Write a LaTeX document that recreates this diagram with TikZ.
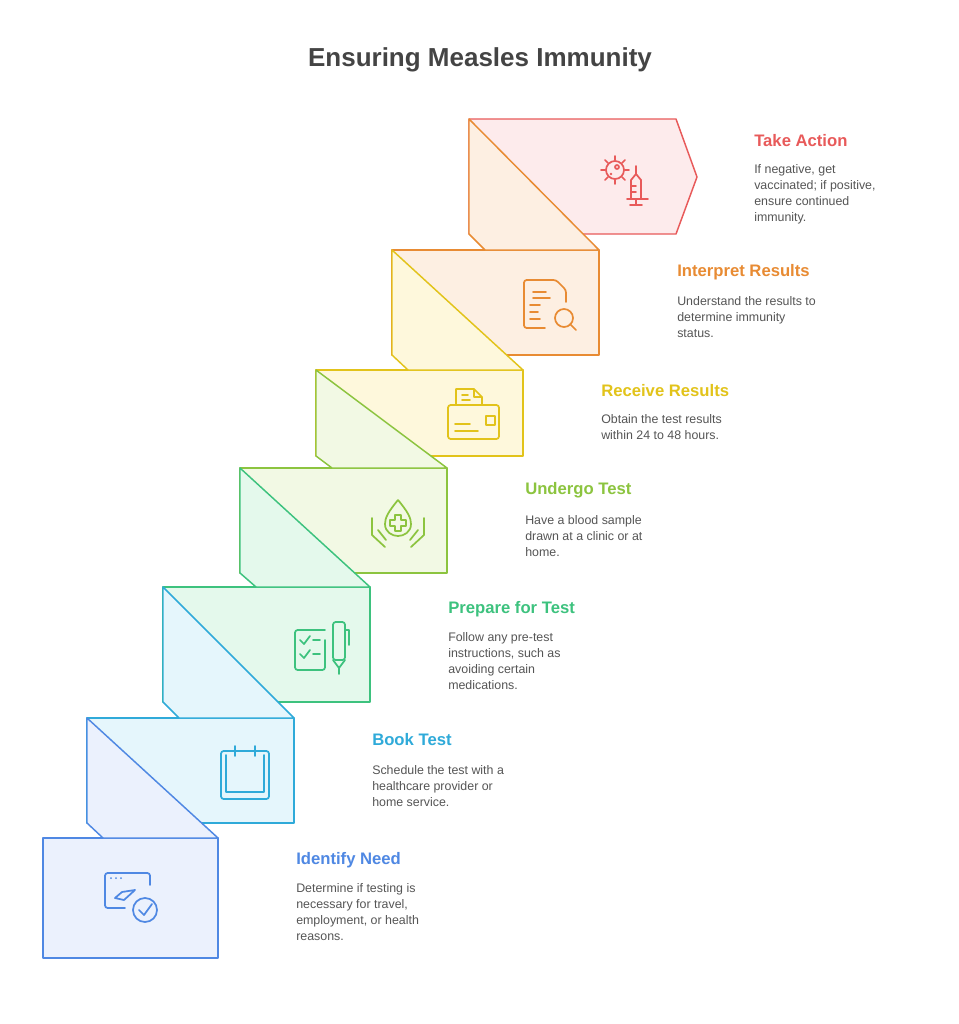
\documentclass[tikz,border=0pt]{standalone}
\usepackage{fontspec}
\setmainfont{Liberation Sans}
\usepackage{tikz}
\usetikzlibrary{arrows.meta,positioning,calc}

\definecolor{cA}{HTML}{4F88E3}\definecolor{fA}{HTML}{EBF1FD}
\definecolor{cB}{HTML}{2FAAD9}\definecolor{fB}{HTML}{E5F6FC}
\definecolor{cC}{HTML}{3DC27E}\definecolor{fC}{HTML}{E4F9EC}
\definecolor{cD}{HTML}{8CC43F}\definecolor{fD}{HTML}{F2F9E4}
\definecolor{cE}{HTML}{E2C31A}\definecolor{fE}{HTML}{FEF8DC}
\definecolor{cF}{HTML}{E88B33}\definecolor{fF}{HTML}{FDEFE2}
\definecolor{cG}{HTML}{E85A5A}\definecolor{fG}{HTML}{FDEBEC}
\definecolor{txt}{HTML}{555555}

\begin{document}
\begin{tikzpicture}[
  x=0.75pt, y=-0.75pt,
  face/.style={line width=1.1pt, line join=round},
  icon/.style={line width=1.3pt, line cap=round, line join=round},
  heading/.style={anchor=west, inner sep=0pt, font=\bfseries\fontsize{12.5}{14}\selectfont},
  desc/.style={anchor=north west, align=left, text=txt,
    font=\fontsize{9.3}{12}\selectfont, inner sep=0pt}
]
  \useasboundingbox[fill=white] (0,0) rectangle (959,1024);
  \node[font=\bfseries\fontsize{19.5}{22}\selectfont, text=txt!80!black]
    (title) at (480,60) {Ensuring Measles Immunity};

  % front faces
  \draw[face, draw=cA, fill=fA] (43,838) rectangle (218,958);
  \draw[face, draw=cB, fill=fB] (87,718) rectangle (294,823);
  \draw[face, draw=cC, fill=fC] (163,587) rectangle (370,702);
  \draw[face, draw=cD, fill=fD] (240,468) rectangle (447,573);
  \draw[face, draw=cE, fill=fE] (316,370) rectangle (523,456);
  \draw[face, draw=cF, fill=fF] (392,250) rectangle (599,355);
  \draw[face, draw=cG, fill=fG] (469,119) -- (676,119) -- (697,177) -- (676,234) -- (469,234) -- cycle;

  % folds
  \draw[face, draw=cA, fill=fA] (87,718) -- (87,823) -- (103,838) -- (218,838) -- cycle;
  \draw[face, draw=cB, fill=fB] (163,587) -- (163,702) -- (179,718) -- (294,718) -- cycle;
  \draw[face, draw=cC, fill=fC] (240,468) -- (240,573) -- (256,587) -- (370,587) -- cycle;
  \draw[face, draw=cD, fill=fD] (316,370) -- (316,456) -- (332,468) -- (447,468) -- cycle;
  \draw[face, draw=cE, fill=fE] (392,250) -- (392,355) -- (408,370) -- (523,370) -- cycle;
  \draw[face, draw=cF, fill=fF] (469,119) -- (469,234) -- (485,250) -- (599,250) -- cycle;

  % icons
  \begin{scope}[icon, draw=cA]
    \draw[rounded corners=2pt] (150,885) -- (150,873) -- (105,873) -- (105,908) -- (125,908);
    \fill[cA] (111,878) circle (1) (116,878) circle (1) (121,878) circle (1);
    \draw (115,898) -- (122,892) -- (135,890) -- (124,900) -- cycle;
    \draw (145,910) circle (12);
    \draw (139,910) -- (144,915) -- (152,904);
  \end{scope}
  \begin{scope}[icon, draw=cB]
    \draw[rounded corners=2pt] (230,751) -- (221,751) -- (221,799) -- (269,799) -- (269,751) -- (260,751);
    \draw (226,755) -- (226,792) -- (264,792) -- (264,755);
    \draw (235,746) -- (235,756) (255,746) -- (255,756) (230,751) -- (260,751);
  \end{scope}
  \begin{scope}[icon, draw=cC]
    \draw[rounded corners=2pt] (325,630) -- (295,630) -- (295,670) -- (325,670) -- (325,640);
    \draw (300,640) -- (304,644) -- (310,636) (313,640) -- (320,640);
    \draw (300,654) -- (304,658) -- (310,650) (313,654) -- (320,654);
    \draw[rounded corners=2pt] (333,622) rectangle (345,660);
    \draw (333,660) -- (339,668) -- (345,660) (339,668) -- (339,674) (345,630) -- (349,630) -- (349,645);
  \end{scope}
  \begin{scope}[icon, draw=cD]
    \draw (398,500) .. controls (388,512) and (385,518) .. (385,524)
      .. controls (385,532) and (392,536) .. (398,536)
      .. controls (404,536) and (411,532) .. (411,524)
      .. controls (411,518) and (408,512) .. (398,500);
    \draw (395,515) -- (401,515) -- (401,520) -- (406,520) -- (406,526) -- (401,526) -- (401,531) -- (395,531) -- (395,526) -- (390,526) -- (390,520) -- (395,520) -- cycle;
    \draw (372,518) -- (372,535) -- (385,547) (378,530) -- (386,540);
    \draw (424,518) -- (424,535) -- (411,547) (418,530) -- (410,540);
  \end{scope}
  \begin{scope}[icon, draw=cE]
    \draw (456,405) -- (456,389) -- (474,389) -- (482,397) -- (482,405) (474,389) -- (474,397) -- (482,397);
    \draw[rounded corners=2pt] (448,405) rectangle (499,439);
    \draw (462,395) -- (468,395) (462,400) -- (470,400);
    \draw (455,424) -- (470,424) (455,431) -- (478,431);
    \draw (486,416) rectangle (495,425);
  \end{scope}
  \begin{scope}[icon, draw=cF]
    \draw[rounded corners=2pt] (545,328) -- (524,328) -- (524,280) -- (556,280) -- (566,290) -- (566,302);
    \draw (533,292) -- (546,292) (533,298) -- (550,298) (530,305) -- (540,305) (530,312) -- (538,312) (530,319) -- (540,319);
    \draw (564,318) circle (9) (570,324) -- (576,330);
  \end{scope}
  \begin{scope}[icon, draw=cG]
    \draw (615,170) circle (9);
    \draw (617,167) circle (2);
    \fill[cG] (611,174) circle (1.3);
    \foreach \a in {0,45,...,315} \draw ($(615,170)+(\a:10)$) -- ($(615,170)+(\a:14)$);
    \draw (631,199) -- (631,180) -- (636,174) -- (641,180) -- (641,199) (636,174) -- (636,166);
    \draw (627,199) -- (648,199) (636,199) -- (636,205) (630,205) -- (642,205);
    \draw (632,186) -- (636,186) (632,192) -- (636,192);
  \end{scope}

  % headings and texts
  \node[heading, text=cA] (h1) at (296,860) {Identify Need};
  \node[desc] (d1) at (296,883) {Determine if testing is\\necessary for travel,\\employment, or health\\reasons.};
  \node[heading, text=cB] (h2) at (372,740) {Book Test};
  \node[desc] (d2) at (372,765) {Schedule the test with a\\healthcare provider or\\home service.};
  \node[heading, text=cC] (h3) at (448,609) {Prepare for Test};
  \node[desc] (d3) at (448,632) {Follow any pre-test\\instructions, such as\\avoiding certain\\medications.};
  \node[heading, text=cD] (h4) at (525,490) {Undergo Test};
  \node[desc] (d4) at (525,515) {Have a blood sample\\drawn at a clinic or at\\home.};
  \node[heading, text=cE] (h5) at (601,391) {Receive Results};
  \node[desc] (d5) at (601,414) {Obtain the test results\\within 24 to 48 hours.};
  \node[heading, text=cF] (h6) at (677,272) {Interpret Results};
  \node[desc] (d6) at (677,296) {Understand the results to\\determine immunity\\status.};
  \node[heading, text=cG] (h7) at (754,141) {Take Action};
  \node[desc] (d7) at (754,164) {If negative, get\\vaccinated; if positive,\\ensure continued\\immunity.};
\end{tikzpicture}
\end{document}
